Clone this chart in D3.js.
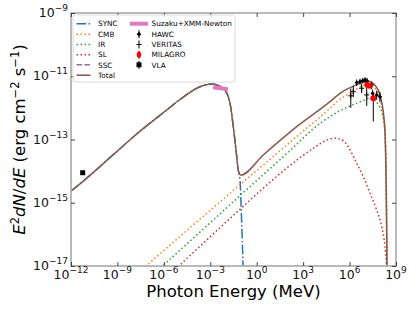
<!DOCTYPE html>
<html>
<head>
<meta charset="utf-8">
<script src="https://cdn.jsdelivr.net/npm/d3@7"></script>
<style>
body { margin: 0; background: #fff; }
text { font-family: "DejaVu Sans", sans-serif; }
</style>
</head>
<body>
<div id="chart"></div>
<script>
// model curves, photon energy (MeV) and E^2 dN/dE (erg cm^-2 s^-1)
const totalE = [1e-12, 5.75e-12, 5.41e-10, 1.76e-8, 1.53e-6, 1.10e-5, 2.16e-4, 1.11e-3, 6.93e-3, 1.88e-2, 3.07e-2, 4.59e-2, 6.46e-2, 9.23e-2, 2.67, 384, 5.45e4, 2.40e5, 2.24e6, 1.62e7, 4.37e7, 9.33e7, 1.51e8, 1.95e8, 2.24e8, 2.45e8, 2.63e8];
const totalF = [2.34e-15, 4.68e-15, 3.31e-14, 1.49e-13, 8.57e-13, 1.84e-12, 4.68e-12, 5.69e-12, 4.16e-12, 1.40e-12, 2.54e-13, 4.66e-14, 1.08e-14, 7.53e-15, 3.24e-14, 2.54e-13, 1.57e-12, 2.88e-12, 5.16e-12, 6.92e-12, 5.16e-12, 2.51e-12, 7.41e-13, 1.74e-13, 1e-14, 3.16e-16, 7.9e-18];

const syncE = [1e-12, 5.75e-12, 5.41e-10, 1.76e-8, 1.53e-6, 1.10e-5, 2.16e-4, 1.11e-3, 6.93e-3, 1.88e-2, 3.07e-2, 4.59e-2, 6.46e-2, 8.32e-2, 0.105, 0.130, 0.141];
const syncF = [2.34e-15, 4.68e-15, 3.31e-14, 1.49e-13, 8.57e-13, 1.84e-12, 4.68e-12, 5.69e-12, 4.16e-12, 1.40e-12, 2.54e-13, 4.66e-14, 1.05e-14, 5.25e-15, 2.88e-16, 1e-17, 1.6e-18];

const cmbE = [6.31e-8, 1e-4, 1.88e-2, 2.67, 384, 5.45e4, 1.15e5, 2.24e6, 1e7, 3.98e7, 8.91e7, 1.51e8, 1.95e8, 2.24e8, 2.45e8, 2.63e8];
const cmbF = [9.55e-18, 2.19e-16, 2.0e-15, 1.57e-14, 1.24e-13, 9.77e-13, 1.38e-12, 3.63e-12, 5.25e-12, 4.27e-12, 1.91e-12, 5.62e-13, 1.26e-13, 7.9e-15, 2.5e-16, 6.3e-18];

const irE = [6.31e-7, 1e-3, 0.368, 100, 1.23e4, 1.15e5, 6.03e6, 2.69e7, 7.24e7, 1.2e8, 1.95e8, 2.29e8, 2.51e8, 2.63e8];
const irF = [8.9e-18, 2.34e-16, 3.24e-15, 3.8e-14, 3.24e-13, 6.61e-13, 1.62e-12, 2.04e-12, 1.26e-12, 7.41e-13, 1.78e-13, 1e-14, 3.16e-16, 6.3e-18];

const slE = [7.94e-6, 0.286, 1.63, 4.53e3, 3.31e4, 1.15e5, 3.98e5, 1.07e6, 2.88e6, 7.76e6, 2.09e7, 5.62e7, 1.2e8, 1.95e8, 2.51e8];
const slF = [9.3e-18, 1.08e-15, 2.34e-15, 5.25e-14, 9.55e-14, 1.10e-13, 9.12e-14, 4.68e-14, 1.78e-14, 6.61e-15, 2.0e-15, 5.89e-16, 1.74e-16, 4.07e-17, 9.55e-18];

// observations
const suzakuE = [1.51e-3, 1.38e-2];
const suzakuF = [4.48e-12, 3.86e-12];

const hawcE  = [2.88e6, 4.72e6, 7.08e6, 1e7, 1.34e7, 2.69e7, 3.09e7, 5.66e7, 9.25e7];
const hawcF  = [6.31e-12, 6.76e-12, 7.24e-12, 7.59e-12, 7.08e-12, 5.25e-12, 2.88e-12, 2.57e-12, 2.24e-12];
const hawcHi = [7.9e-12, 8.3e-12, 8.9e-12, 9.3e-12, 8.9e-12, 6.8e-12, 3.8e-12, 3.5e-12, 3.2e-12];
const hawcLo = [4.9e-12, 5.4e-12, 5.9e-12, 6.2e-12, 5.6e-12, 3.9e-12, 2.1e-12, 1.8e-12, 1.5e-12];

const veritasE  = [1.2e6, 1.74e6, 6.03e6, 1.28e7];
const veritasF  = [2.4e-12, 3.24e-12, 4.17e-12, 2.57e-12];
const veritasHi = [4.1e-12, 4.9e-12, 5.7e-12, 4.27e-12];
const veritasLo = [1.0e-12, 2.19e-12, 2.95e-12, 1.15e-12];

const milagroE  = [1.4e7, 2.0e7, 3.41e7];
const milagroF  = [5.3e-12, 5.0e-12, 2.0e-12];
const milagroHi = [5.9e-12, 5.6e-12, 3.16e-12];
const milagroLo = [4.7e-12, 4.4e-12, 3.7e-13];

const vlaE = [5.70e-12];
const vlaF = [8.9e-15];

const xTicks = [1e-12, 1e-9, 1e-6, 1e-3, 1e0, 1e3, 1e6, 1e9];
const yTicks = [1e-17, 1e-15, 1e-13, 1e-11, 1e-9];

function chart() {
    const margin = {l: 71, r: 19, t: 13, b: 46};
    const overall_width = 415;
    const overall_height = 312;
    const width = overall_width - margin.l - margin.r;
    const height = overall_height - margin.t - margin.b;

    let outerSvg = d3.select("#chart")
        .append("svg")
        .attr("width", overall_width)
        .attr("height", overall_height);
    outerSvg.append("rect")
        .attr("width", "100%")
        .attr("height", "100%")
        .attr("fill", "#fff");
    let svg = outerSvg.append("g")
        .attr("transform", `translate(${margin.l}, ${margin.t})`);

    let scaleX = d3.scaleLog().domain([1e-12, 1e9]).range([0, width]);
    let scaleY = d3.scaleLog().domain([1e-17, 1e-9]).range([height, 0]);

    svg.append("clipPath").attr("id", "clip")
        .append("rect").attr("width", width).attr("height", height);

    let plot = svg.append("g").attr("clip-path", "url(#clip)");

    let line = d3.line()
        .x(function(d) {return scaleX(d[0])})
        .y(function(d) {return scaleY(d[1])})
        .curve(d3.curveMonotoneX);

    const series = [
        {e: syncE, f: syncF, color: "#1f77b4", dash: "9.6,2.4,1.5,2.4"},
        {e: cmbE, f: cmbF, color: "#ff7f0e", dash: "1.5,2.5"},
        {e: irE, f: irF, color: "#2ca02c", dash: "1.5,2.5"},
        {e: slE, f: slF, color: "#d62728", dash: "1.5,2.5"},
        {e: totalE, f: totalF, color: "#8c564b", dash: null}
    ];
    series.forEach(function(s) {
        plot.append("path")
            .datum(d3.zip(s.e, s.f))
            .attr("d", line)
            .attr("fill", "none")
            .attr("stroke", s.color)
            .attr("stroke-width", 1.5)
            .attr("stroke-dasharray", s.dash);
    });

    // Suzaku+XMM-Newton band
    plot.append("path")
        .datum(d3.zip(suzakuE, suzakuF))
        .attr("d", d3.line().x(d => scaleX(d[0])).y(d => scaleY(d[1])))
        .attr("stroke", "#e377c2")
        .attr("stroke-width", 4)
        .attr("fill", "none");

    function errBars(E, hi, lo) {
        plot.append("g").selectAll("line")
            .data(d3.zip(E, hi, lo))
            .enter().append("line")
            .attr("x1", d => scaleX(d[0])).attr("x2", d => scaleX(d[0]))
            .attr("y1", d => scaleY(d[1])).attr("y2", d => scaleY(d[2]))
            .attr("stroke", "black").attr("stroke-width", 1);
    }
    errBars(veritasE, veritasHi, veritasLo);
    errBars(hawcE, hawcHi, hawcLo);
    errBars(milagroE, milagroHi, milagroLo);

    // VERITAS plus markers
    plot.append("g").selectAll("path")
        .data(d3.zip(veritasE, veritasF))
        .enter().append("path")
        .attr("d", d => `M${scaleX(d[0]) - 2.5},${scaleY(d[1])}h5M${scaleX(d[0])},${scaleY(d[1]) - 2.5}v5`)
        .attr("stroke", "black").attr("stroke-width", 1);

    // HAWC diamonds
    plot.append("g").selectAll("path")
        .data(d3.zip(hawcE, hawcF))
        .enter().append("path")
        .attr("transform", d => `translate(${scaleX(d[0])},${scaleY(d[1])})`)
        .attr("d", d3.symbol(d3.symbolDiamond2, 12))
        .attr("fill", "black");

    // MILAGRO
    plot.append("g").selectAll("circle")
        .data(d3.zip(milagroE, milagroF))
        .enter().append("circle")
        .attr("cx", d => scaleX(d[0])).attr("cy", d => scaleY(d[1]))
        .attr("r", 3).attr("fill", "red");

    // VLA
    plot.append("g").selectAll("rect")
        .data(d3.zip(vlaE, vlaF))
        .enter().append("rect")
        .attr("x", d => scaleX(d[0]) - 2.5).attr("y", d => scaleY(d[1]) - 2.5)
        .attr("width", 5).attr("height", 5).attr("fill", "black");

    // frame
    svg.append("rect")
        .attr("width", width).attr("height", height)
        .attr("fill", "none").attr("stroke", "#a8a8a8").attr("stroke-width", 1.6);

    function sup(text, v, subSize, dy) {
        const e = Math.round(Math.log10(v));
        text.append("tspan").text("10");
        text.append("tspan").attr("dy", dy).attr("font-size", subSize)
            .text(e < 0 ? "\u2212" + (-e) : e);
    }

    // ticks, inward on all four sides
    const axes = [
        {ax: d3.axisBottom(scaleX).tickValues(xTicks), tr: `translate(0,${height})`, size: 4},
        {ax: d3.axisTop(scaleX).tickValues(xTicks), tr: "translate(0,0)", size: 4},
        {ax: d3.axisLeft(scaleY).tickValues(yTicks), tr: "translate(0,0)", size: 4},
        {ax: d3.axisRight(scaleY).tickValues(yTicks), tr: `translate(${width},0)`, size: 4}
    ];
    axes.forEach(function(a) {
        let g = svg.append("g").attr("transform", a.tr)
            .call(a.ax.tickSize(-a.size).tickFormat(""));
        g.select(".domain").remove();
        g.selectAll(".tick line").attr("stroke", "#444");
    });

    svg.append("g").selectAll("text")
        .data(xTicks).enter().append("text")
        .attr("x", d => scaleX(d)).attr("y", height + 13)
        .attr("text-anchor", "middle").attr("font-size", 12.5).attr("fill", "#111")
        .each(function(d) { sup(d3.select(this), d, 9, -6); });

    svg.append("g").selectAll("text")
        .data(yTicks).enter().append("text")
        .attr("x", -3).attr("y", d => scaleY(d) + 4)
        .attr("text-anchor", "end").attr("font-size", 12.5).attr("fill", "#111")
        .each(function(d) { sup(d3.select(this), d, 9, -6); });

    // axis titles
    svg.append("text")
        .attr("x", width / 2).attr("y", height + 31)
        .attr("text-anchor", "middle").attr("font-size", 16.5)
        .text("Photon Energy (MeV)");

    let yl = svg.append("text")
        .attr("transform", `translate(${-46},${height / 2}) rotate(-90)`)
        .attr("text-anchor", "middle").attr("font-size", 16.5);
    yl.append("tspan").attr("font-style", "italic").text("E");
    yl.append("tspan").attr("dy", -6).attr("font-size", 11.5).text("2");
    yl.append("tspan").attr("dy", 6).attr("font-style", "italic").text("dN");
    yl.append("tspan").text("/");
    yl.append("tspan").attr("font-style", "italic").text("dE");
    yl.append("tspan").text(" (erg cm");
    yl.append("tspan").attr("dy", -6).attr("font-size", 11.5).text("\u22122");
    yl.append("tspan").attr("dy", 6).text(" s");
    yl.append("tspan").attr("dy", -6).attr("font-size", 11.5).text("\u22121");
    yl.append("tspan").attr("dy", 6).text(")");

    // legend
    let lg = outerSvg.append("g");
    lg.append("rect")
        .attr("x", 73).attr("y", 15).attr("width", 162).attr("height", 67)
        .attr("rx", 2.5).attr("fill", "#fff").attr("fill-opacity", 0.85)
        .attr("stroke", "#d0d0d0").attr("stroke-width", 0.8);

    const rowY = [23.7, 34.2, 44.5, 54.7, 64.8, 75.2];
    const leftItems = [
        {name: "SYNC", color: "#1f77b4", dash: "9.6,2.4,1.5,2.4"},
        {name: "CMB", color: "#ff7f0e", dash: "1.5,2.5"},
        {name: "IR", color: "#2ca02c", dash: "1.5,2.5"},
        {name: "SL", color: "#d62728", dash: "1.5,2.5"},
        {name: "SSC", color: "#9467bd", dash: "5.5,2.4"},
        {name: "Total", color: "#8c564b", dash: null}
    ];
    leftItems.forEach(function(it, i) {
        lg.append("line")
            .attr("x1", 76.5).attr("x2", 90.5).attr("y1", rowY[i]).attr("y2", rowY[i])
            .attr("stroke", it.color).attr("stroke-width", 1.5)
            .attr("stroke-dasharray", it.dash);
        lg.append("text")
            .attr("x", 98).attr("y", rowY[i] + 2.7)
            .attr("font-size", 7.3).text(it.name);
    });

    const mx = 139;
    const rightNames = ["Suzaku+XMM-Newton", "HAWC", "VERITAS", "MILAGRO", "VLA"];
    rightNames.forEach(function(n, i) {
        lg.append("text")
            .attr("x", 151.5).attr("y", rowY[i] + 2.7)
            .attr("font-size", 7.3).text(n);
    });
    lg.append("line")
        .attr("x1", 130).attr("x2", 148).attr("y1", rowY[0]).attr("y2", rowY[0])
        .attr("stroke", "#e377c2").attr("stroke-width", 4);
    [1, 2, 3, 4].forEach(function(i) {
        lg.append("line")
            .attr("x1", mx).attr("x2", mx).attr("y1", rowY[i] - 4).attr("y2", rowY[i] + 4)
            .attr("stroke", "black").attr("stroke-width", 1);
    });
    lg.append("path")
        .attr("transform", `translate(${mx},${rowY[1]})`)
        .attr("d", d3.symbol(d3.symbolDiamond2, 14)).attr("fill", "black");
    lg.append("path")
        .attr("d", `M${mx - 2.5},${rowY[2]}h5`)
        .attr("stroke", "black").attr("stroke-width", 1);
    lg.append("ellipse")
        .attr("cx", mx).attr("cy", rowY[3]).attr("rx", 2.3).attr("ry", 3)
        .attr("fill", "red");
    lg.append("rect")
        .attr("x", mx - 2.5).attr("y", rowY[4] - 2.5).attr("width", 5).attr("height", 5)
        .attr("fill", "black");
}

chart();
</script>
</body>
</html>
